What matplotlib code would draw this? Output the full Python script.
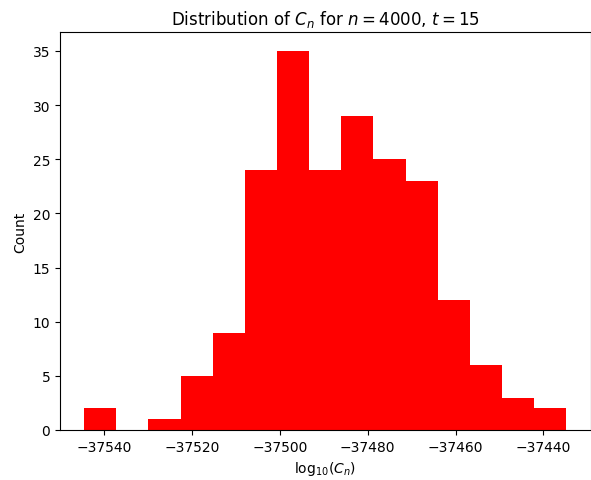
import matplotlib
matplotlib.use("Agg")
import matplotlib.pyplot as plt

bin_edges = [-37544.53, -37537.21, -37529.90, -37522.58, -37515.27, -37507.95,
             -37500.64, -37493.32, -37486.00, -37478.69, -37471.37, -37464.06,
             -37456.74, -37449.42, -37442.11, -37434.79]
counts = [2, 0, 1, 5, 9, 24, 35, 24, 29, 25, 23, 12, 6, 3, 2]

fig = plt.figure(figsize=(5.91, 4.81), dpi=100)
ax = fig.add_axes([60 / 591, 1 - 431 / 481, 530.5 / 591, 398 / 481])
ax.hist(bin_edges[:-1], bins=bin_edges, weights=counts, color="red")
ax.set_title("Distribution of $C_n$ for $n = 4000$, $t = 15$")
ax.set_xlabel(r"$\mathrm{log}_{10}(C_n)$")
ax.set_ylabel("Count")
fig.savefig("out.png", dpi=100)
